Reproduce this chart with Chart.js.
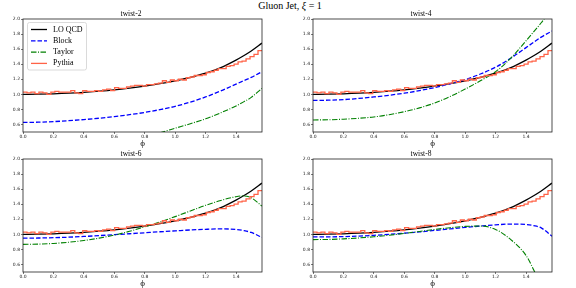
<!DOCTYPE html>
<html>
<head>
<meta charset="utf-8">
<script src="https://cdn.jsdelivr.net/npm/chart.js@4.4.1/dist/chart.umd.min.js"></script>
<style>
  html, body { margin: 0; padding: 0; background: #fff; overflow: hidden; }
  body { width: 576px; height: 288px; position: relative; }
  canvas { position: absolute; }
  #suptitle { position: absolute; left: 230px; width: 120px; top: 0px; text-align: center;
              font: 10px "Liberation Serif", serif; color: #000; white-space: nowrap; }
</style>
</head>
<body>
<div id="suptitle">Gluon Jet, <i>ξ</i> = 1</div>
<canvas id="c1" width="286" height="148" style="left:0px;top:0px"></canvas>
<canvas id="c2" width="286" height="148" style="left:290px;top:0px"></canvas>
<canvas id="c3" width="286" height="148" style="left:0px;top:140px"></canvas>
<canvas id="c4" width="286" height="148" style="left:290px;top:140px"></canvas>
<script>
// phi grid (x) for the smooth curves
const phi = [0.0, 0.1, 0.2, 0.3, 0.4, 0.5, 0.6, 0.7, 0.8, 0.9, 1.0, 1.1, 1.2, 1.3, 1.4, 1.45, 1.5, 1.5708];

const loQcd = [1.000, 1.002, 1.007, 1.015, 1.027, 1.042, 1.060, 1.083, 1.110, 1.142, 1.180, 1.225, 1.280, 1.355, 1.455, 1.512, 1.575, 1.680];

const block2 = [0.627, 0.630, 0.638, 0.650, 0.665, 0.683, 0.705, 0.730, 0.760, 0.797, 0.840, 0.897, 0.965, 1.045, 1.135, 1.180, 1.225, 1.300];
const taylor2 = [null, null, null, null, null, null, null, null, null, 0.490, 0.550, 0.610, 0.675, 0.755, 0.845, 0.900, 0.960, 1.080];

const block4 = [0.920, 0.922, 0.930, 0.945, 0.965, 0.988, 1.015, 1.050, 1.090, 1.140, 1.195, 1.270, 1.360, 1.480, 1.620, 1.690, 1.760, 1.840];
const taylor4 = [0.660, 0.662, 0.670, 0.682, 0.700, 0.730, 0.770, 0.820, 0.885, 0.970, 1.070, 1.180, 1.300, 1.480, 1.710, 1.830, 1.950, 2.150];

const block6 = [0.950, 0.951, 0.955, 0.962, 0.972, 0.983, 0.995, 1.008, 1.021, 1.034, 1.046, 1.058, 1.067, 1.072, 1.065, 1.050, 1.025, 0.958];
const taylor6 = [0.867, 0.870, 0.879, 0.895, 0.918, 0.950, 0.990, 1.040, 1.100, 1.165, 1.235, 1.310, 1.385, 1.450, 1.500, 1.510, 1.485, 1.375];

const block8 = [0.965, 0.966, 0.970, 0.977, 0.987, 1.000, 1.015, 1.032, 1.052, 1.072, 1.092, 1.110, 1.126, 1.136, 1.130, 1.115, 1.085, 0.975];
const taylor8 = [0.930, 0.932, 0.940, 0.952, 0.968, 0.988, 1.012, 1.038, 1.065, 1.088, 1.105, 1.110, 1.065, 0.930, 0.720, 0.530, 0.300, -0.100];

// Pythia histogram, 60 equal bins over [0, pi/2]
const pythia = [1.03, 1.02, 1.03, 1.01, 1.03, 1.02, 1.00, 1.03, 1.04, 1.03,
                1.03, 1.03, 1.05, 1.02, 1.01, 1.05, 1.04, 1.04, 1.05, 1.04,
                1.06, 1.07, 1.05, 1.09, 1.08, 1.08, 1.10, 1.11, 1.12, 1.12,
                1.11, 1.13, 1.13, 1.14, 1.15, 1.18, 1.16, 1.19, 1.18, 1.20,
                1.19, 1.22, 1.23, 1.25, 1.25, 1.26, 1.29, 1.30, 1.32, 1.34,
                1.34, 1.37, 1.38, 1.40, 1.43, 1.44, 1.47, 1.50, 1.53, 1.58];

const xTicks = [0.0, 0.2, 0.4, 0.6, 0.8, 1.0, 1.2, 1.4];
const yTicks = [0.6, 0.8, 1.0, 1.2, 1.4, 1.6, 1.8, 2.0];
const panelTitles = ["twist-2", "twist-4", "twist-6", "twist-8"];
const seriesNames = ["LO QCD", "Block", "Taylor", "Pythia"];

const XMAX = Math.PI / 2;
const styles = {
  "LO QCD": { color: "#000000", dash: [], width: 1.3 },
  "Block":  { color: "#0000ff", dash: [4.5, 2], width: 1.3 },
  "Taylor": { color: "#008000", dash: [5.5, 1.5, 1, 1.5], width: 1.1 },
  "Pythia": { color: "#ff6347", dash: [], width: 1.3 }
};

function curve(ys) {
  return phi.map((x, i) => ({ x: x, y: ys[i] })).filter(p => p.y !== null);
}

function histPoints() {
  const w = XMAX / pythia.length;
  const pts = pythia.map((v, i) => ({ x: i * w, y: v }));
  pts.push({ x: XMAX, y: pythia[pythia.length - 1] });
  return pts;
}

// box around the axes (all four spines)
const frame = {
  id: "frame",
  afterDatasetsDraw(chart) {
    const a = chart.chartArea, ctx = chart.ctx;
    ctx.save();
    ctx.strokeStyle = "#222";
    ctx.lineWidth = 0.8;
    ctx.strokeRect(a.left, a.top, a.right - a.left, a.bottom - a.top);
    ctx.restore();
  }
};

// matplotlib-like legend inside the first panel
const boxLegend = {
  id: "boxLegend",
  afterDraw(chart) {
    const ctx = chart.ctx;
    ctx.save();
    ctx.fillStyle = "rgba(255,255,255,0.85)";
    ctx.strokeStyle = "#d0d0d0";
    ctx.lineWidth = 0.8;
    ctx.beginPath();
    ctx.roundRect(27.5, 22.5, 59, 47.5, 2);
    ctx.fill();
    ctx.stroke();
    ctx.font = '8px "Liberation Serif"';
    ctx.textBaseline = "middle";
    seriesNames.forEach((name, i) => {
      const s = styles[name];
      const y = 29.5 + i * 11.3;
      ctx.strokeStyle = s.color;
      ctx.lineWidth = s.width;
      ctx.setLineDash(s.dash);
      ctx.beginPath();
      ctx.moveTo(31, y);
      ctx.lineTo(47, y);
      ctx.stroke();
      ctx.setLineDash([]);
      ctx.fillStyle = "#000";
      ctx.fillText(name, 53, y);
    });
    ctx.restore();
  }
};

function makePanel(id, idx, block, taylor) {
  const ds = (name, data, order, extra) => Object.assign({
    label: name,
    data: data,
    borderColor: styles[name].color,
    borderDash: styles[name].dash,
    borderWidth: styles[name].width,
    pointRadius: 0,
    fill: false,
    order: order
  }, extra || {});

  const plugins = [frame];
  if (idx === 0) plugins.push(boxLegend);

  new Chart(document.getElementById(id).getContext("2d"), {
    type: "line",
    data: {
      datasets: [
        ds("LO QCD", curve(loQcd), 3, { cubicInterpolationMode: "monotone" }),
        ds("Block", curve(block), 2, { cubicInterpolationMode: "monotone" }),
        ds("Taylor", curve(taylor), 1, { cubicInterpolationMode: "monotone" }),
        ds("Pythia", histPoints(), 0, { stepped: "before" })
      ]
    },
    options: {
      responsive: false,
      animation: false,
      devicePixelRatio: 1,
      layout: { padding: { left: 0, right: 24, top: 0, bottom: 0 } },
      plugins: {
        legend: { display: false },
        tooltip: { enabled: false },
        title: {
          display: true,
          text: panelTitles[idx],
          color: "#000",
          font: { family: "Liberation Serif", size: 7.5, weight: "normal", lineHeight: 1 },
          padding: { top: 10.5, bottom: 1 }
        }
      },
      scales: {
        x: {
          type: "linear",
          min: 0,
          max: XMAX,
          afterBuildTicks: s => { s.ticks = xTicks.map(v => ({ value: v })); },
          afterFit: s => { s.height = 16; },
          ticks: {
            callback: v => Number(v).toFixed(1),
            font: { family: "DejaVu Sans", size: 4.5 },
            color: "#222",
            padding: 0,
            maxRotation: 0,
            autoSkip: false
          },
          grid: { drawOnChartArea: false, tickLength: 2, color: "#222", lineWidth: 0.6 },
          border: { display: false },
          title: {
            display: true,
            text: "ϕ",
            color: "#000",
            font: { family: "Liberation Serif", size: 9, lineHeight: 1 },
            padding: 0
          }
        },
        y: {
          min: 0.5,
          max: 2.0,
          afterBuildTicks: s => { s.ticks = yTicks.map(v => ({ value: v })); },
          afterFit: s => { s.width = 23; },
          ticks: {
            callback: v => Number(v).toFixed(1),
            font: { family: "DejaVu Sans", size: 4.5 },
            color: "#222",
            padding: 1
          },
          grid: { drawOnChartArea: false, tickLength: 2, color: "#222", lineWidth: 0.6 },
          border: { display: false }
        }
      }
    },
    plugins: plugins
  });
}

makePanel("c1", 0, block2, taylor2);
makePanel("c2", 1, block4, taylor4);
makePanel("c3", 2, block6, taylor6);
makePanel("c4", 3, block8, taylor8);
</script>
</body>
</html>
